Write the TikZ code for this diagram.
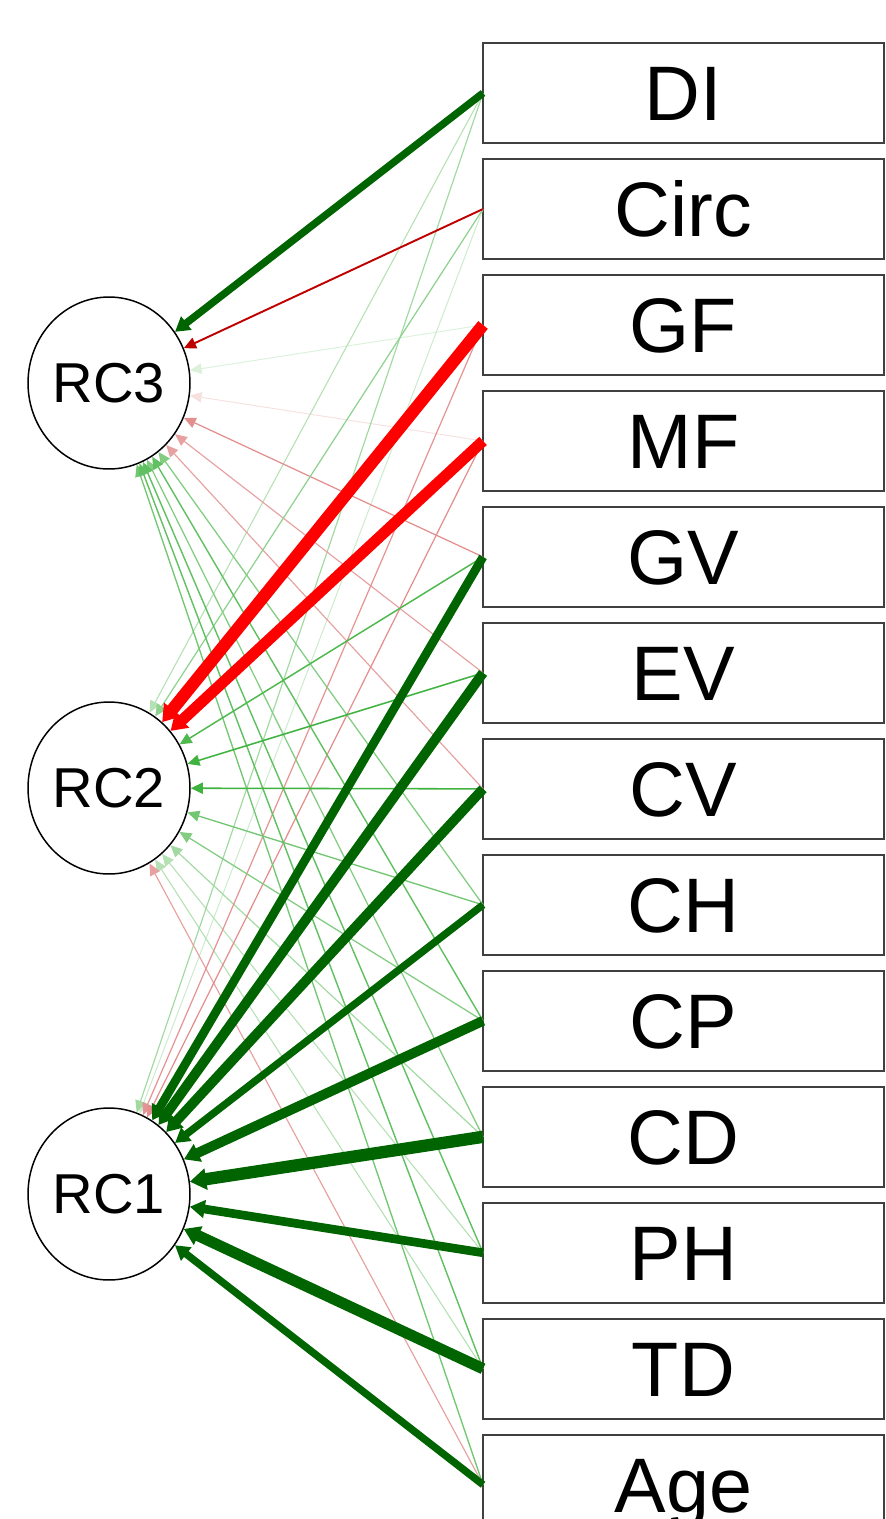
\documentclass[tikz,border=0pt]{standalone}
\usepackage{fontspec}
\setmainfont{Liberation Sans}
\usetikzlibrary{arrows.meta,shapes,calc,positioning}

\definecolor{posstrong}{RGB}{0,100,0}
\definecolor{posweak}{RGB}{0,153,0}
\definecolor{negstrong}{RGB}{255,0,0}
\definecolor{negweak}{RGB}{191,0,0}

\tikzset{
  itembox/.style={draw=black!75, line width=0.85pt, minimum width=8.02cm, minimum height=2cm,
    inner sep=0pt, outer sep=0pt, font=\fontsize{44}{48}\selectfont, text height=31.5pt, text depth=0pt},
  facnode/.style={ellipse, draw=black, line width=0.85pt, minimum width=3.24cm, minimum height=3.44cm,
    inner sep=0pt, font=\fontsize{32}{35}\selectfont, text height=22.5pt, text depth=0pt},
  loadarrow/.style={-{Triangle[length=6.5pt 0.4, width=5.5pt 0.9]}}
}

\begin{document}
\begin{tikzpicture}[x=0.02cm, y=-0.02cm]
		\clip (0,0) rectangle (886,1519);
		% factors
		\node[facnode] (RC3) at (109,383) {RC3};
		\node[facnode] (RC2) at (109,788) {RC2};
		\node[facnode] (RC1) at (109,1194) {RC1};
		% observed variables
		\node[itembox] (DI) at (683.5,93) {DI};
		\node[itembox, below=0.32cm of DI] (Circ) {Circ};
		\node[itembox, below=0.32cm of Circ] (GF) {GF};
		\node[itembox, below=0.32cm of GF] (MF) {MF};
		\node[itembox, below=0.32cm of MF] (GV) {GV};
		\node[itembox, below=0.32cm of GV] (EV) {EV};
		\node[itembox, below=0.32cm of EV] (CV) {CV};
		\node[itembox, below=0.32cm of CV] (CH) {CH};
		\node[itembox, below=0.32cm of CH] (CP) {CP};
		\node[itembox, below=0.32cm of CP] (CD) {CD};
		\node[itembox, below=0.32cm of CD] (PH) {PH};
		\node[itembox, below=0.32cm of PH] (TD) {TD};
		\node[itembox, below=0.32cm of TD] (Age) {Age};
		% weak loadings
		\foreach \v/\f/\w in {MF/RC3/-0.05, GF/RC3/0.06, Circ/RC1/0.08, DI/RC2/0.12, PH/RC2/0.12,
				TD/RC2/0.12, DI/RC1/0.15, CD/RC2/0.15, Age/RC2/-0.15, EV/RC3/-0.15, CV/RC3/-0.15,
				GF/RC1/-0.17, MF/RC1/-0.18, GV/RC3/-0.18, Circ/RC2/0.18, CH/RC3/0.2, CP/RC2/0.2,
				CD/RC3/0.2, CH/RC2/0.22, Age/RC3/0.22, CP/RC3/0.25, PH/RC3/0.25, TD/RC3/0.25,
				GV/RC2/0.28, EV/RC2/0.3, CV/RC2/0.3, Circ/RC3/-0.45}{
			\pgfmathsetmacro{\aw}{abs(\w)}
			\pgfmathtruncatemacro{\pct}{min(100,250*\aw)}
			\pgfmathsetmacro{\lw}{(0.8+2.5*\aw)*0.567}
			\ifdim\w pt<0pt \def\col{negweak}\else\def\col{posweak}\fi
			\draw[loadarrow, line width=\lw pt, color=\col!\pct!white] (\v.west) -- (\f);
		}
		% strong loadings
		\foreach \v/\f/\w in {DI/RC3/0.57, CH/RC1/0.57, Age/RC1/0.57, GV/RC1/0.67, PH/RC1/0.67,
				EV/RC1/0.76, CV/RC1/0.76, CP/RC1/0.76, TD/RC1/0.86, MF/RC2/-0.86,
				CD/RC1/0.95, GF/RC2/-0.95}{
			\pgfmathsetmacro{\lw}{13*abs(\w)*0.567}
			\ifdim\w pt<0pt \def\col{negstrong}\else\def\col{posstrong}\fi
			\draw[loadarrow, line width=\lw pt, color=\col] (\v.west) -- (\f);
		}
\end{tikzpicture}
\end{document}
